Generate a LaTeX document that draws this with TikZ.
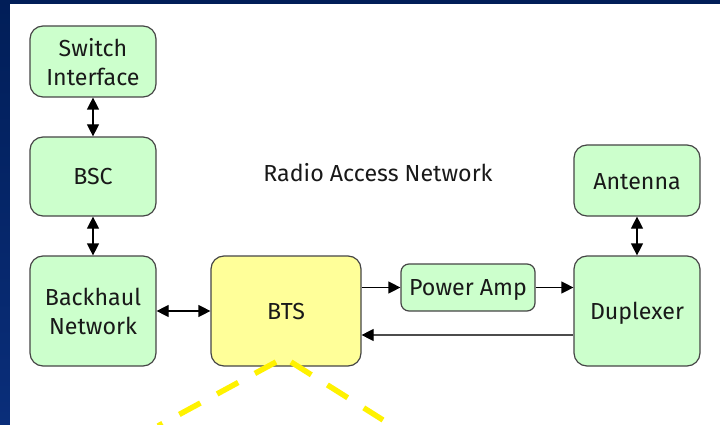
\documentclass[tikz,border=0pt]{standalone}
\usepackage{fontspec}
\setmainfont{Fira Sans}
\usetikzlibrary{arrows.meta,calc}
\definecolor{navytop}{RGB}{1,30,88}
\definecolor{navybot}{RGB}{10,46,122}
\definecolor{boxgreen}{RGB}{204,255,204}
\definecolor{boxyellow}{RGB}{255,255,153}
\definecolor{boxedge}{RGB}{70,70,70}
\tikzset{
  x=1pt,y=-1pt,
  labelfont/.style={font=\fontsize{23.2}{29}\selectfont,text=black!90},
  blockbase/.style={draw=boxedge,line width=1.2pt,rounded corners=13pt,inner sep=0pt,align=center,labelfont,text depth=0pt},
  greenbox/.style={blockbase,fill=boxgreen},
  yellowbox/.style={blockbase,fill=boxyellow},
  link/.style={line width=1.2pt,draw=black,-{Triangle[length=12pt,width=12pt]}},
  biLink/.style={line width=1.2pt,draw=black,{Triangle[length=12pt,width=12pt]}-{Triangle[length=12pt,width=12pt]}},
  beam/.style={draw=yellow,line width=5.5pt,dash pattern=on 24pt off 19pt}
}
\newcommand{\blockat}[7]{\node[#1,minimum width=#4pt-#3pt,minimum height=#6pt-#5pt] (#2) at ({(#3+#4)/2},{(#5+#6)/2}) {#7};}
\begin{document}
\begin{tikzpicture}
\useasboundingbox (0,0) rectangle (720,425);
\shade[top color=navytop,bottom color=navybot] (0,0) rectangle (720,425);
\fill[white] (10,4) rectangle (720,425);
\blockat{greenbox}{sw}{30}{156}{26}{97}{Switch\\Interface}
\blockat{greenbox}{bsc}{30}{156}{137}{216}{BSC}
\blockat{greenbox}{bh}{30}{156}{256}{366}{Backhaul\\Network}
\blockat{yellowbox}{bts}{211}{361}{256}{366}{BTS}
\blockat{greenbox,rounded corners=8pt}{pa}{401}{535}{264}{311}{Power Amp}
\blockat{greenbox}{ant}{574}{700}{145}{216}{\raisebox{-1.5pt}{Antenna}}
\blockat{greenbox}{dup}{574}{700}{256}{366}{Duplexer}
\node[labelfont,inner sep=0pt] (ran) at (378,173) {Radio Access Network};
\coordinate (ret) at (467,335);
\coordinate (apexL) at (276,362);
\coordinate (endL) at (158,426);
\coordinate (apexR) at (291,362);
\coordinate (endR) at (383,420);
\draw[biLink] (sw) -- (bsc);
\draw[biLink] (bsc) -- (bh);
\draw[biLink] (bh) -- (bts);
\draw[link] (bts.east |- pa.west) -- (pa.west);
\draw[link] (pa.east) -- (dup.west |- pa.east);
\draw[line width=1.2pt,draw=black!70,{Triangle[length=12pt,width=12pt,black]}-] (bts.east |- ret) -- (dup.west |- ret);
\draw[biLink] (ant) -- (dup);
\draw[beam] (apexL) -- (endL);
\draw[beam] (apexR) -- (endR);
\end{tikzpicture}
\end{document}
